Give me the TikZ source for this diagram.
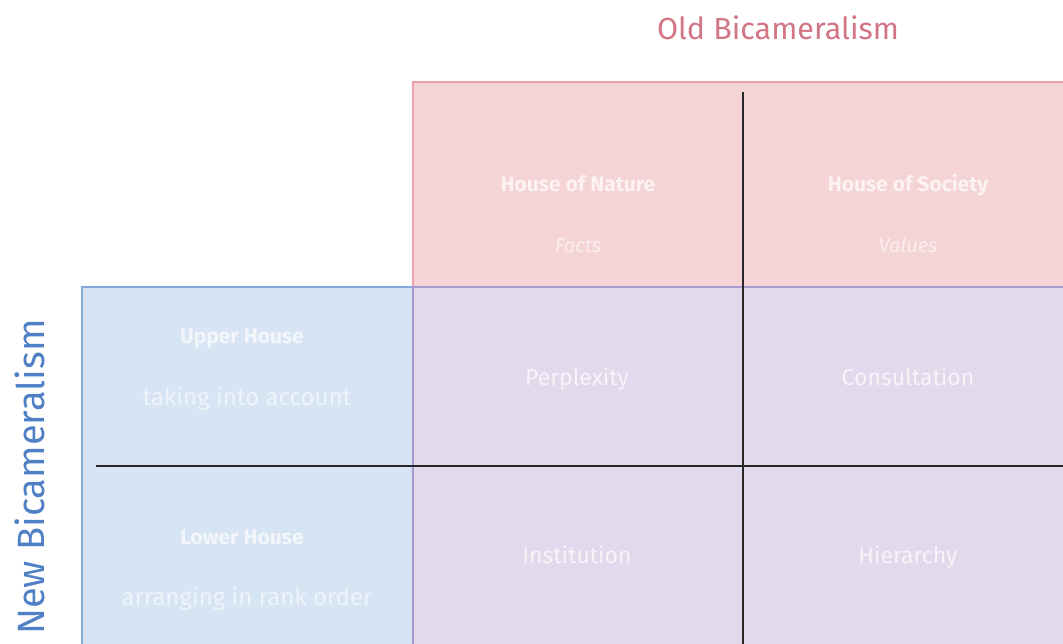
\documentclass[tikz,border=0pt]{standalone}
\usepackage{fontspec}
\setmainfont{Fira Sans}
\definecolor{oldred}{HTML}{D27585}
\definecolor{oldfill}{HTML}{F5D4D6}
\definecolor{olddraw}{HTML}{EBA2AA}
\definecolor{newblue}{HTML}{4F7FC4}
\definecolor{newfill}{HTML}{D6E4F4}
\definecolor{newdraw}{HTML}{86A9DC}
\definecolor{midfill}{HTML}{E1DAEC}
\definecolor{middraw}{HTML}{A79AD0}
\begin{document}
\begin{tikzpicture}[x=1pt, y=-1pt,
  lbl/.style={text=white, text height=1.5ex, text depth=.25ex},
  house/.style={lbl, text opacity=0.7, font=\fontsize{21}{24}\selectfont\bfseries},
  sub/.style={lbl, text opacity=0.6, font=\fontsize{24}{28}\selectfont},
  value/.style={lbl, text opacity=0.6, font=\fontsize{20}{24}\selectfont\itshape},
  cell/.style={lbl, text opacity=0.7, font=\fontsize{23}{27}\selectfont}]
\useasboundingbox (0,0) rectangle (1063,644);
\fill[oldfill, draw=olddraw, line width=1.5pt] (413,82) rectangle (1070,650);
\fill[newfill, draw=newdraw, line width=1.5pt] (82,287) rectangle (1070,650);
\fill[midfill, draw=middraw, line width=1.5pt] (413,287) rectangle (1070,650);
\node[text=oldred, font=\fontsize{30.5}{36}\selectfont] (old) at (778,28){Old Bicameralism};
\node[text=newblue, font=\fontsize{38}{44}\selectfont, rotate=90] (new) at (30,477){New Bicameralism};
\coordinate (vtop) at (743,92);
\coordinate (vbot) at (743,644);
\coordinate (hleft) at (96,466);
\coordinate (hright) at (1063,466);
\draw[line width=1.6pt, black!85] (vtop) -- (vbot);
\draw[line width=1.6pt, black!85] (hleft) -- (hright);
\node[house] (nature) at (578,188){House of Nature};
\node[value] (facts) at (578,249){Facts};
\node[house] (society) at (908,188){House of Society};
\node[value] (values) at (908,249){Values};
\node[house] (upper) at (242,340){Upper House};
\node[sub] (account) at (247,402){taking into account};
\node[house] (lower) at (242,541){Lower House};
\node[sub] (rank) at (247,602){arranging in rank order};
\node[cell] (perplexity) at (577,382){Perplexity};
\node[cell] (consultation) at (908,382){Consultation};
\node[cell] (institution) at (577,560){Institution};
\node[cell] (hierarchy) at (908,560){Hierarchy};
\end{tikzpicture}
\end{document}
